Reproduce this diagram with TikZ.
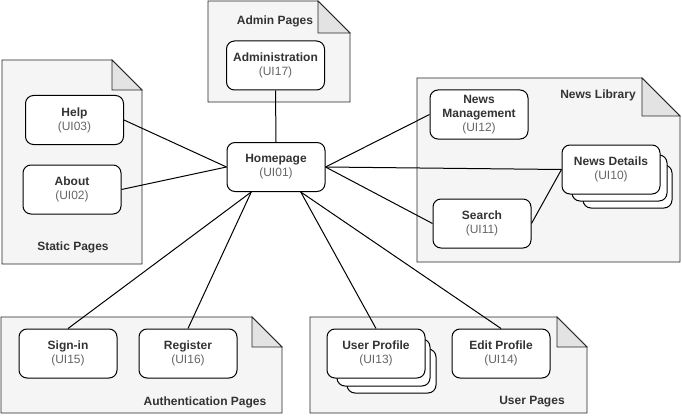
\documentclass[tikz,border=0pt]{standalone}
\usepackage{fontspec}
\setmainfont{Liberation Sans}
\usetikzlibrary{calc}
\definecolor{notefill}{HTML}{F5F5F5}
\definecolor{foldfill}{HTML}{E3E3E3}
\definecolor{txtdark}{HTML}{333333}
\definecolor{txtid}{HTML}{666666}
\newcommand{\mynote}[5]{% x1 y1 x2 y2 fold
  \draw[notestyle] (#1,#2) -- (#3-#5,#2) -- (#3,#2+#5) -- (#3,#4) -- (#1,#4) -- cycle;
  \draw[foldstyle] (#3-#5,#2) -- (#3-#5,#2+#5) -- (#3,#2+#5) -- cycle;
}
\newcommand{\uiname}[2]{\textbf{\color{txtdark}#1}\\{\color{txtid}(#2)}}
\tikzset{
  notestyle/.style={draw=black!85, fill=notefill, line width=0.9pt, line join=miter},
  foldstyle/.style={draw=black!85, fill=foldfill, line width=0.9pt},
  uibox/.style={draw=black, fill=white, rounded corners=8pt, line width=1pt,
    minimum width=98pt, minimum height=49pt, inner sep=1pt, align=center,
    font=\fontsize{12}{14}\selectfont},
  backbox/.style={draw=black, fill=white, rounded corners=8pt, line width=1pt},
  grouplabel/.style={font=\fontsize{12}{14}\selectfont\bfseries, text=txtdark, inner sep=0pt},
  link/.style={draw=black, line width=1pt},
}
\begin{document}
\begin{tikzpicture}[x=1pt,y=-1pt]
\useasboundingbox[fill=white] (0,0) rectangle (682,417);
% group notes
\mynote{2}{60}{142}{264}{30}
\mynote{208}{1}{350}{102}{32}
\mynote{417}{78}{680}{262}{38}
\mynote{1}{317}{282}{413}{30}
\mynote{310}{317}{587}{413}{30}
% group labels
\node[grouplabel] (lstatic) at (73,247) {Static Pages};
\node[grouplabel] (ladmin) at (275,21) {Admin Pages};
\node[grouplabel] (lnews) at (598,95) {News Library};
\node[grouplabel] (lauth) at (205,402) {Authentication Pages};
\node[grouplabel] (luser) at (532,402) {User Pages};
% stacked back boxes
\draw[backbox] (583,165) rectangle (672,208);
\draw[backbox] (572,155) rectangle (667,201);
\draw[backbox] (347,349) rectangle (436,393);
\draw[backbox] (337,339) rectangle (430,386);
% boxes
\node[uibox] (help) at (74.5,120) {\uiname{Help}{UI03}};
\node[uibox] (about) at (72,189.5) {\uiname{About}{UI02}};
\node[uibox] (admin) at (275.5,65.5) {\uiname{Administration}{UI17}};
\node[uibox] (home) at (276,167) {\uiname{Homepage}{UI01}};
\node[uibox] (mgmt) at (479,114.5) {\textbf{\color{txtdark}News}\\\textbf{\color{txtdark}Management}\\{\color{txtid}(UI12)}};
\node[uibox] (details) at (611,169.5) {\uiname{News Details}{UI10}};
\node[uibox] (search) at (482,223.5) {\uiname{Search}{UI11}};
\node[uibox] (signin) at (68,353.5) {\uiname{Sign-in}{UI15}};
\node[uibox] (register) at (188,353.5) {\uiname{Register}{UI16}};
\node[uibox] (profile) at (376,353.5) {\uiname{User Profile}{UI13}};
\node[uibox] (edit) at (501,353.5) {\uiname{Edit Profile}{UI14}};
% exit points
\coordinate (hbl) at ($(home.south west)!0.25!(home.south east)$);
\coordinate (hbr) at ($(home.south west)!0.75!(home.south east)$);
% connectors
\draw[link] (admin.south) -- (home.north);
\draw[link] (help.east) -- (home.west);
\draw[link] (about.east) -- (home.west);
\draw[link] (home.east) -- (mgmt.west);
\draw[link] (home.east) -- (details.west);
\draw[link] (home.east) -- (search.west);
\draw[link] (search.east) -- (details.west);
\draw[link] (hbl) -- (signin.north);
\draw[link] (hbl) -- (register.north);
\draw[link] (hbr) -- (profile.north);
\draw[link] (hbr) -- (edit.north);
\end{tikzpicture}
\end{document}
